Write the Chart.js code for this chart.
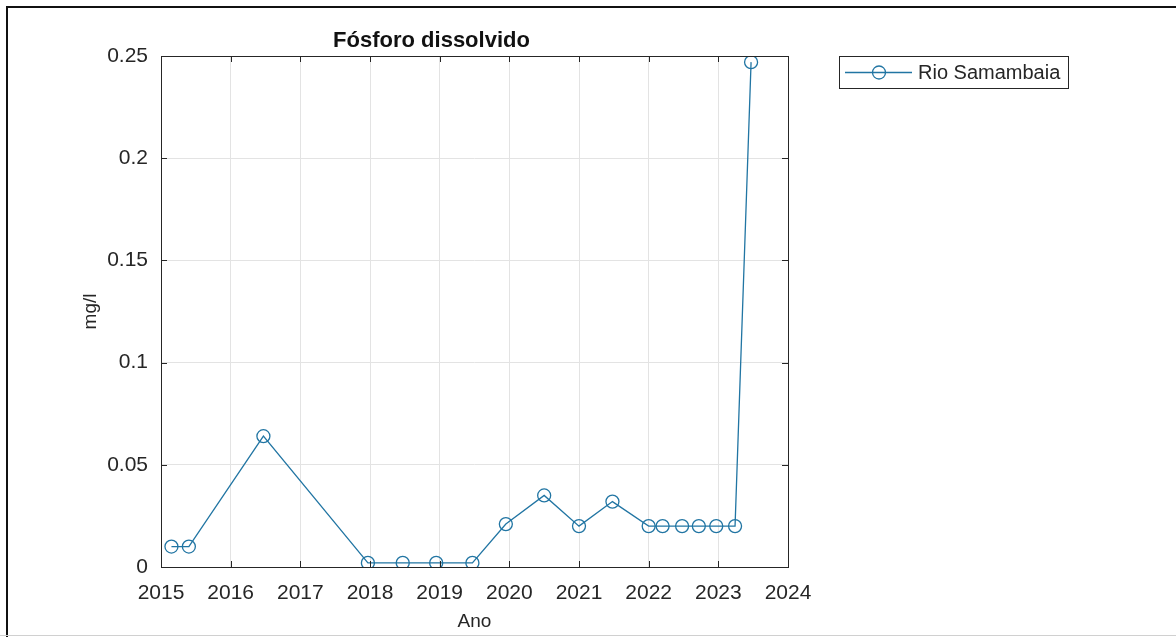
<!DOCTYPE html>
<html>
<head>
<meta charset="utf-8">
<script src="https://cdn.jsdelivr.net/npm/chart.js@4"></script>
<style>
  html, body { margin: 0; padding: 0; background: #fff; }
</style>
</head>
<body>
<canvas id="grafico" width="1176" height="637"></canvas>
<script>
// dados
const anos = [2015.15, 2015.40, 2016.47, 2017.97, 2018.47, 2018.95, 2019.47, 2019.95, 2020.50,
              2021.00, 2021.48, 2022.00, 2022.20, 2022.48, 2022.72, 2022.97, 2023.24, 2023.47];
const valores = [0.010, 0.010, 0.064, 0.002, 0.002, 0.002, 0.002, 0.021, 0.035,
                 0.020, 0.032, 0.020, 0.020, 0.020, 0.020, 0.020, 0.020, 0.247];
const ticksX = [2015, 2016, 2017, 2018, 2019, 2020, 2021, 2022, 2023, 2024];
const ticksY = ['0', '0.05', '0.1', '0.15', '0.2', '0.25'];
const serie = 'Rio Samambaia';

const corLinha = '#2175a3';
const corTexto = '#262626';
const fonte = "'Liberation Sans', Arial, sans-serif";

Chart.defaults.font.family = fonte;
Chart.defaults.color = corTexto;

// moldura externa, caixa do gráfico, marcas internas e legenda
const molduraPlugin = {
    id: 'moldura',
    beforeDraw(chart) {
        const c = chart.ctx;
        c.save();
        c.fillStyle = '#fff';
        c.fillRect(0, 0, chart.width, chart.height);
        c.strokeStyle = '#111';
        c.lineWidth = 2;
        c.beginPath();
        c.moveTo(7, chart.height);
        c.lineTo(7, 7);
        c.lineTo(chart.width, 7);
        c.stroke();
        c.strokeStyle = '#d0d0d0';
        c.lineWidth = 1;
        c.beginPath();
        c.moveTo(0, 635.5);
        c.lineTo(chart.width, 635.5);
        c.stroke();
        c.restore();
    },
    afterDatasetsDraw(chart) {
        const c = chart.ctx;
        const a = chart.chartArea;
        const sx = chart.scales.x, sy = chart.scales.y;
        c.save();
        c.strokeStyle = corTexto;
        c.lineWidth = 1;
        c.strokeRect(Math.round(a.left) + 0.5, Math.round(a.top) + 0.5,
                     Math.round(a.right - a.left), Math.round(a.bottom - a.top));
        c.beginPath();
        sx.ticks.forEach(t => {
            const px = Math.round(sx.getPixelForValue(t.value)) + 0.5;
            c.moveTo(px, a.bottom); c.lineTo(px, a.bottom - 6);
            c.moveTo(px, a.top); c.lineTo(px, a.top + 6);
        });
        sy.ticks.forEach(t => {
            const py = Math.round(sy.getPixelForValue(t.value)) + 0.5;
            c.moveTo(a.left, py); c.lineTo(a.left + 6, py);
            c.moveTo(a.right, py); c.lineTo(a.right - 6, py);
        });
        c.stroke();

        // legenda
        const lx = 839.5, ly = 56.5, lw = 229, lh = 32;
        c.fillStyle = '#fff';
        c.fillRect(lx, ly, lw, lh);
        c.strokeStyle = corTexto;
        c.strokeRect(lx, ly, lw, lh);
        const my = ly + lh / 2;
        c.strokeStyle = corLinha;
        c.lineWidth = 1.3;
        c.beginPath();
        c.moveTo(845, my); c.lineTo(912, my);
        c.stroke();
        c.beginPath();
        c.arc(879, my, 6.5, 0, Math.PI * 2);
        c.stroke();
        c.fillStyle = corTexto;
        c.font = '20px ' + fonte;
        c.textBaseline = 'middle';
        c.textAlign = 'left';
        c.fillText(chart.data.datasets[0].label, 918, my + 1);
        c.restore();
    }
};

const ctx = document.getElementById('grafico').getContext('2d');
new Chart(ctx, {
    type: 'line',
    data: {
        datasets: [{
            label: serie,
            data: anos.map((a, i) => ({ x: a, y: valores[i] })),
            borderColor: corLinha,
            borderWidth: 1.3,
            pointStyle: 'circle',
            pointRadius: 6.5,
            pointBorderWidth: 1.3,
            pointBorderColor: corLinha,
            pointBackgroundColor: 'rgba(0,0,0,0)',
            tension: 0,
            fill: false
        }]
    },
    options: {
        responsive: false,
        animation: false,
        layout: {
            padding: { left: 75, right: 388, top: 28, bottom: 0 }
        },
        plugins: {
            legend: { display: false },
            tooltip: { enabled: false },
            title: {
                display: true,
                text: 'Fósforo dissolvido',
                color: '#111',
                font: { size: 22, weight: 'bold' },
                padding: { top: 0, bottom: 1.6 }
            }
        },
        scales: {
            x: {
                type: 'linear',
                min: ticksX[0],
                max: ticksX[ticksX.length - 1],
                afterBuildTicks(scale) {
                    scale.ticks = ticksX.map(v => ({ value: v }));
                },
                afterFit(scale) { scale.height = 70; },
                grid: { color: '#e3e3e3', drawTicks: false },
                border: { display: false },
                ticks: {
                    font: { size: 21 },
                    color: corTexto,
                    padding: 14,
                    maxRotation: 0,
                    callback: v => String(v)
                },
                title: {
                    display: true,
                    text: 'Ano',
                    font: { size: 19 },
                    color: corTexto,
                    padding: { top: 4, bottom: 4 }
                }
            },
            y: {
                min: 0,
                max: 0.25,
                afterBuildTicks(scale) {
                    scale.ticks = ticksY.map(v => ({ value: parseFloat(v) }));
                },
                afterFit(scale) { scale.width = 86; },
                grid: { color: '#e3e3e3', drawTicks: false },
                border: { display: false },
                ticks: {
                    font: { size: 21 },
                    color: corTexto,
                    padding: 13,
                    callback: (v, i) => ticksY[i]
                },
                title: {
                    display: true,
                    text: 'mg/l',
                    font: { size: 19 },
                    color: corTexto,
                    padding: { top: 4, bottom: 4 }
                }
            }
        }
    },
    plugins: [molduraPlugin]
});
</script>
</body>
</html>
